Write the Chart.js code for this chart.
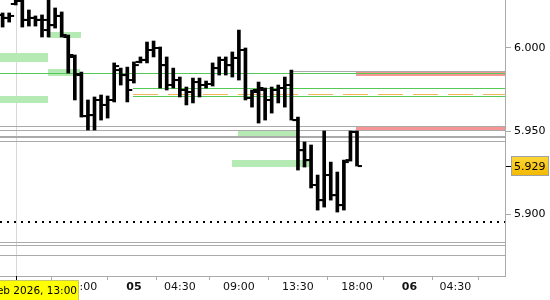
<!DOCTYPE html>
<html>
<head>
<meta charset="utf-8">
<script src="https://cdn.jsdelivr.net/npm/chart.js@4.4.1/dist/chart.umd.min.js"></script>
<style>
  html, body { margin: 0; padding: 0; background: #fff; }
</style>
</head>
<body>
<canvas id="chart" width="550" height="300"></canvas>
<script>
// 30 min bars, index 0 = 13:30 on the 5th
var barIdx = [-45, -44, -43, -42, -41, -40, -39, -38, -37, -36, -35, -34, -33, -32, -31, -30, -29, -28, -27, -26,
  -25, -24, -23, -22, -21, -20, -19, -18, -17, -16, -15, -14, -13, -12, -11, -10, -9, -8, -7, -6,
  -5, -4, -3, -2, -1, 0, 1, 2, 3, 4, 5, 6, 7, 8, 9];
var opens = [6.0199, 6.0181, 6.0265, 6.0283, 6.0169, 6.0181, 6.0169, 6.0108, 6.0138, 6.0193,
  6.0066, 5.9946, 5.9837, 5.9590, 5.9596, 5.9687, 5.9657, 5.9687, 5.9867, 5.9837,
  5.9807, 5.9916, 5.9928, 5.9988, 6.0000, 5.9897, 5.9777, 5.9807, 5.9747, 5.9735,
  5.9795, 5.9777, 5.9783, 5.9879, 5.9928, 5.9897, 5.9940, 5.9988, 5.9699, 5.9735,
  5.9747, 5.9687, 5.9747, 5.9759, 5.9777, 5.9566, 5.9385, 5.9325, 5.9175, 5.9084,
  5.9235, 5.9114, 5.9054, 5.9325, 5.9494];
var highs = [6.0211, 6.0211, 6.0307, 6.0289, 6.0229, 6.0193, 6.0199, 6.0319, 6.0241, 6.0217,
  6.0078, 5.9958, 5.9855, 5.9687, 5.9705, 5.9717, 5.9711, 5.9910, 5.9879, 5.9885,
  5.9916, 5.9946, 6.0036, 6.0042, 6.0006, 5.9946, 5.9879, 5.9825, 5.9765, 5.9819,
  5.9819, 5.9801, 5.9910, 5.9946, 5.9946, 5.9976, 6.0108, 6.0000, 5.9747, 5.9795,
  5.9759, 5.9765, 5.9777, 5.9825, 5.9867, 5.9584, 5.9434, 5.9416, 5.9235, 5.9500,
  5.9313, 5.9253, 5.9325, 5.9500, 5.9500];
var lows = [6.0126, 6.0156, 6.0259, 6.0126, 6.0132, 6.0132, 6.0066, 6.0066, 6.0120, 6.0066,
  5.9849, 5.9687, 5.9584, 5.9506, 5.9506, 5.9566, 5.9578, 5.9675, 5.9777, 5.9675,
  5.9789, 5.9910, 5.9910, 5.9946, 5.9759, 5.9747, 5.9759, 5.9705, 5.9657, 5.9669,
  5.9705, 5.9759, 5.9771, 5.9837, 5.9837, 5.9825, 5.9807, 5.9687, 5.9644, 5.9548,
  5.9566, 5.9608, 5.9669, 5.9644, 5.9566, 5.9265, 5.9283, 5.9157, 5.9024, 5.9042,
  5.9084, 5.9012, 5.9024, 5.9319, 5.9289];
var closes = [6.0181, 6.0193, 6.0283, 6.0169, 6.0181, 6.0169, 6.0169, 6.0138, 6.0193, 6.0078,
  5.9958, 5.9843, 5.9590, 5.9596, 5.9687, 5.9657, 5.9687, 5.9891, 5.9837, 5.9747,
  5.9897, 5.9928, 5.9988, 6.0000, 5.9897, 5.9777, 5.9807, 5.9747, 5.9735, 5.9795,
  5.9777, 5.9783, 5.9879, 5.9928, 5.9897, 5.9940, 5.9988, 5.9699, 5.9747, 5.9759,
  5.9687, 5.9747, 5.9759, 5.9777, 5.9566, 5.9385, 5.9325, 5.9175, 5.9084, 5.9235,
  5.9114, 5.9054, 5.9313, 5.9494, 5.9289];

var timeTicks = [-42, -33, -25, -18, -9, 0, 9, 17, 24];
var timeLabels = ["", "18:00", "05", "04:30", "09:00", "13:30", "18:00", "06", "04:30"];
var dayTicks = [-25, 17];
var priceTicks = [5.90, 5.95, 6.00];
var lastPrice = 5.929;
var crossIdx = -43;
var crossLabel = "4 Feb 2026, 13:00";

// zones: [fromIdx, toIdx, lowPrice, highPrice]  (null = chart edge)
var greenZones = [
  [null, -38.1, 5.99157, 5.99699],
  [-38.1, -33.1, 6.00602, 6.00964],
  [-38.1, -33.2, 5.98313, 5.98735],
  [null, -38.1, 5.96687, 5.97108],
  [-9.1, -0.15, 5.94657, 5.95018],
  [-10.1, 1.8, 5.92831, 5.93253]
];
var redZones = [
  [8.8, null, 5.98312, 5.98535],
  [8.8, null, 5.94990, 5.95221]
];
// levels: [fromIdx, price]
var greenLevels = [[null, 5.98492], [-25.15, 5.97590], [-25.15, 5.97108]];
var orangeLevels = [[-25.15, 5.97259]];
var grayLevels = [[-1.07, 5.98595], [null, 5.95301], [null, 5.95042], [null, 5.94380],
  [null, 5.88313], [null, 5.88133], [null, 5.87530]];
var grayThickLevels = [[null, 5.94639]];
var dottedLevels = [[null, 5.89518]];

var FONT = "DejaVu Sans";

var levelsPlugin = {
  id: "levels",
  beforeDatasetsDraw: function (chart) {
    var ctx = chart.ctx, a = chart.chartArea, xs = chart.scales.x, ys = chart.scales.y;
    function px(v, edge) { return v === null ? edge : xs.getPixelForValue(v); }
    ctx.save();
    ctx.beginPath();
    ctx.rect(a.left, a.top, a.right - a.left, a.bottom - a.top);
    ctx.clip();

    // crosshair
    var cx = Math.round(xs.getPixelForValue(crossIdx)) + 0.5;
    ctx.strokeStyle = "#d8d8d8";
    ctx.lineWidth = 1;
    ctx.beginPath(); ctx.moveTo(cx, a.top); ctx.lineTo(cx, a.bottom); ctx.stroke();

    function zones(list, color) {
      ctx.fillStyle = color;
      list.forEach(function (z) {
        var x1 = px(z[0], a.left), x2 = px(z[1], a.right);
        var y1 = ys.getPixelForValue(z[3]), y2 = ys.getPixelForValue(z[2]);
        ctx.fillRect(Math.round(x1), Math.round(y1), Math.round(x2) - Math.round(x1), Math.round(y2) - Math.round(y1));
      });
    }
    zones(greenZones, "#b5eab5");
    zones(redZones, "#f79494");

    function lines(list, color, width, dash) {
      ctx.strokeStyle = color;
      ctx.lineWidth = width;
      ctx.setLineDash(dash || []);
      list.forEach(function (l) {
        var y = Math.round(ys.getPixelForValue(l[1])) + (width % 2 ? 0.5 : 0);
        ctx.beginPath();
        ctx.moveTo(Math.round(px(l[0], a.left)), y);
        ctx.lineTo(a.right, y);
        ctx.stroke();
      });
      ctx.setLineDash([]);
    }
    lines(grayLevels, "#aaaaaa", 1);
    lines(grayThickLevels, "#aaaaaa", 2);
    lines(greenLevels, "#55c955", 1);
    lines(orangeLevels, "#f5b35a", 1, [25, 10]);
    lines(dottedLevels, "#000000", 2, [2, 5]);
    ctx.restore();
  },
  afterDraw: function (chart) {
    var ctx = chart.ctx, a = chart.chartArea, xs = chart.scales.x, ys = chart.scales.y;
    ctx.save();
    // last price tag
    var py = Math.round(ys.getPixelForValue(lastPrice));
    ctx.strokeStyle = "#000";
    ctx.lineWidth = 1;
    ctx.beginPath(); ctx.moveTo(a.right + 1, py + 0.5); ctx.lineTo(a.right + 6, py + 0.5); ctx.stroke();
    var g = ctx.createLinearGradient(0, py - 10, 0, py + 10);
    g.addColorStop(0, "#ffd83a");
    g.addColorStop(1, "#f2b800");
    ctx.fillStyle = g;
    ctx.fillRect(a.right + 6, py - 10, 38, 20);
    ctx.strokeStyle = "#a0a0a0";
    ctx.strokeRect(a.right + 6.5, py - 9.5, 37, 19);
    ctx.fillStyle = "#000";
    ctx.font = "11px " + FONT;
    ctx.textBaseline = "middle";
    ctx.textAlign = "left";
    ctx.fillText(lastPrice.toFixed(3), a.right + 9, py + 1);

    // crosshair time tag
    var cx = Math.round(xs.getPixelForValue(crossIdx));
    ctx.strokeStyle = "#000";
    ctx.beginPath(); ctx.moveTo(cx + 0.5, a.bottom); ctx.lineTo(cx + 0.5, a.bottom + 5); ctx.stroke();
    var right = cx + 63;
    ctx.fillStyle = "#ffff00";
    ctx.fillRect(right - 130, a.bottom + 4, 130, 20);
    ctx.strokeStyle = "#c8c860";
    ctx.strokeRect(right - 129.5, a.bottom + 4.5, 129, 20);
    ctx.fillStyle = "#000";
    ctx.font = "10.5px " + FONT;
    ctx.textAlign = "right";
    ctx.fillText(crossLabel, right - 2, a.bottom + 15);
    ctx.restore();
  }
};

var ctx = document.getElementById("chart").getContext("2d");

var data = {
  datasets: [
    {
      type: "bar",
      data: barIdx.map(function (x, i) { return { x: x, y: [lows[i], highs[i]] }; }),
      backgroundColor: "#000",
      barThickness: 3,
      order: 1
    },
    {
      type: "scatter",
      data: barIdx.map(function (x, i) { return { x: x - 0.45, y: opens[i] }; }),
      pointStyle: "line",
      pointRadius: 2,
      pointBorderWidth: 2,
      pointBorderColor: "#000",
      order: 0
    },
    {
      type: "scatter",
      data: barIdx.map(function (x, i) { return { x: x + 0.45, y: closes[i] }; }),
      pointStyle: "line",
      pointRadius: 2,
      pointBorderWidth: 2,
      pointBorderColor: "#000",
      order: 0
    }
  ]
};

var options = {
  responsive: false,
  animation: false,
  layout: { padding: 0, autoPadding: false },
  plugins: {
    legend: { display: false },
    tooltip: { enabled: false }
  },
  scales: {
    x: {
      type: "linear",
      position: "bottom",
      min: -45.4,
      max: 31.55,
      offset: false,
      afterBuildTicks: function (s) {
        s.ticks = timeTicks.map(function (v) { return { value: v }; });
      },
      afterFit: function (s) { s.height = 24; s.paddingLeft = 0; s.paddingRight = 0; },
      border: { color: "#aaaaaa" },
      grid: { drawOnChartArea: false, tickLength: 4, color: "#aaaaaa" },
      ticks: {
        autoSkip: false,
        maxRotation: 0,
        padding: 1,
        color: "#111",
        font: function (c) {
          var day = c.tick && dayTicks.indexOf(c.tick.value) >= 0;
          return { family: FONT, size: 11, weight: day ? "bold" : "normal" };
        },
        callback: function (v, i) { return timeLabels[i]; }
      }
    },
    y: {
      type: "linear",
      position: "right",
      min: 5.8627,
      max: 6.0289,
      afterBuildTicks: function (s) {
        s.ticks = priceTicks.map(function (v) { return { value: v }; });
      },
      afterFit: function (s) { s.width = 45; s.paddingTop = 0; s.paddingBottom = 0; },
      border: { color: "#aaaaaa" },
      grid: { drawOnChartArea: false, tickLength: 6, color: "#aaaaaa" },
      ticks: {
        padding: 3,
        color: "#000",
        font: { family: FONT, size: 11 },
        callback: function (v) { return v.toFixed(3); }
      }
    }
  }
};

var myChart = new Chart(ctx, {
  type: "bar",
  data: data,
  options: options,
  plugins: [levelsPlugin]
});
</script>
</body>
</html>
